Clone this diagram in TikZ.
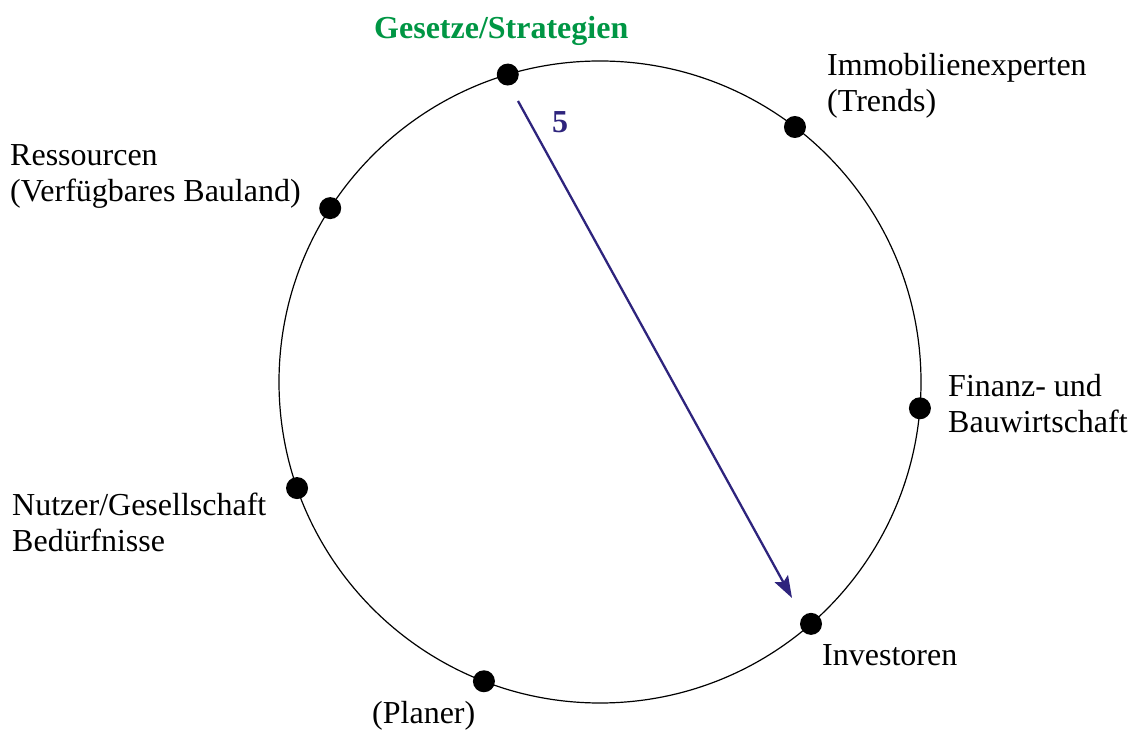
\documentclass[tikz,border=0pt]{standalone}
\usepackage{fontspec}
\setmainfont{Liberation Serif}
\usetikzlibrary{arrows.meta}
\definecolor{lawgreen}{RGB}{0,150,68}
\definecolor{arrowblue}{RGB}{46,36,125}
\tikzset{
  dot/.style={circle,fill=black,inner sep=0pt,minimum size=22pt},
  lbl/.style={anchor=base west,inner sep=0pt,align=left,font=\fontsize{32}{36}\selectfont},
}
\begin{document}
\begin{tikzpicture}[x=1pt,y=1pt]
\useasboundingbox (0,0) rectangle (1135,731);
\coordinate (c) at (600,349);
\draw[line width=1.2pt] (c) circle (321);
\node[dot] (dlaw) at ([shift={(106.7:321)}]c) {};
\node[dot] (dimmo) at ([shift={(52.6:321)}]c) {};
\node[dot] (dfin) at ([shift={(-4.7:321)}]c) {};
\node[dot] (dinv) at ([shift={(-48.9:321)}]c) {};
\node[dot] (dplan) at ([shift={(-111.2:321)}]c) {};
\node[dot] (dnutz) at ([shift={(199.3:321)}]c) {};
\node[dot] (dres) at ([shift={(147.2:321)}]c) {};
\node[lbl,text=lawgreen,font=\fontsize{32}{36}\selectfont\bfseries] (law) at (374,692) {Gesetze/Strategien};
\node[lbl] (immo) at (827,619) {Immobilienexperten\\(Trends)};
\node[lbl] (res) at (10,529) {Ressourcen\\(Verfügbares Bauland)};
\node[lbl] (fin) at (948,298) {Finanz- und\\Bauwirtschaft};
\node[lbl] (nutz) at (12,179) {Nutzer/Gesellschaft\\Bedürfnisse};
\node[lbl] (inv) at (822,65) {Investoren};
\node[lbl] (plan) at (372,8) {(Planer)};
\coordinate (astart) at (518,630);
\coordinate (aend) at (792,133);
\draw[arrowblue,line width=2.3pt,-{Stealth[length=22pt,width=15pt,inset=4pt]}] (astart) -- (aend);
\node[lbl,text=arrowblue,font=\fontsize{32}{36}\selectfont\bfseries] (five) at (552,598) {5};
\end{tikzpicture}
\end{document}
